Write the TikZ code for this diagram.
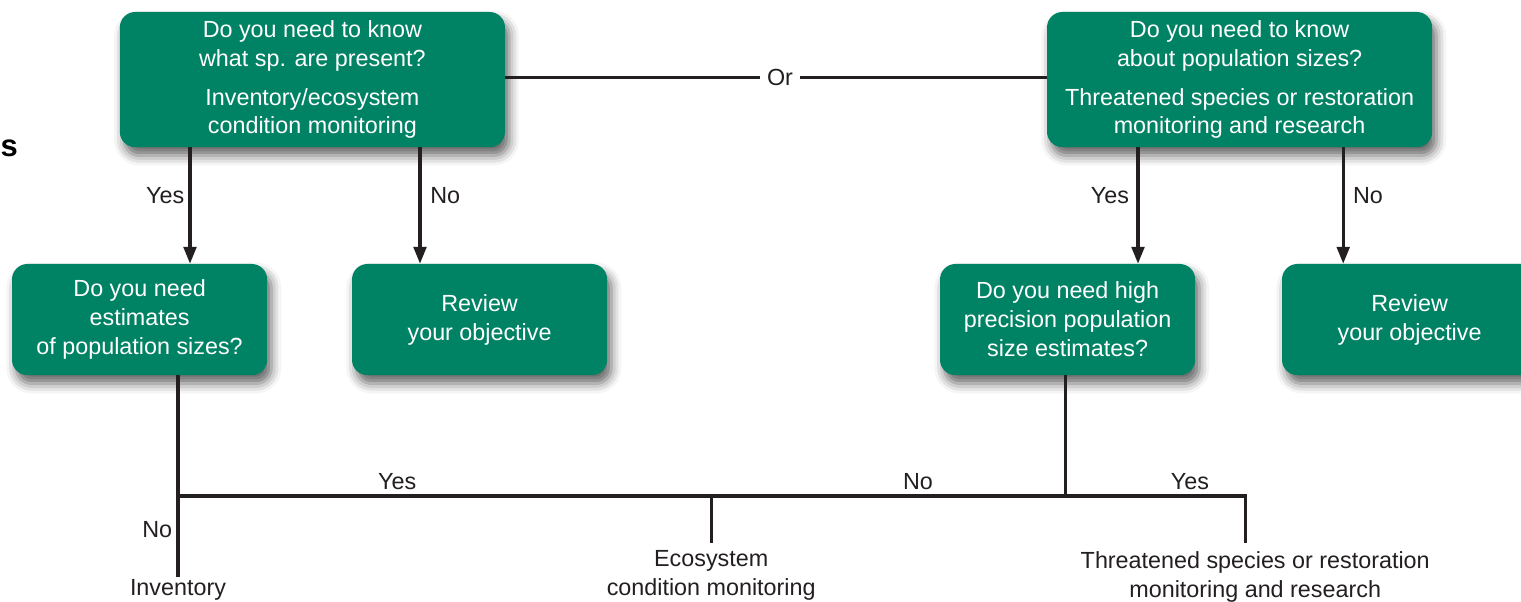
\documentclass[tikz,border=0pt]{standalone}
\usepackage{fontspec}
\setmainfont{Liberation Sans}
\usetikzlibrary{positioning,arrows.meta,shadows.blur}
\definecolor{leaf}{RGB}{0,130,100}
\definecolor{ink}{RGB}{35,31,32}
\newcommand{\flowfont}{\fontsize{16.6}{20.6}\selectfont}

\begin{document}
\begin{tikzpicture}[
 box/.style={rounded corners=11pt,fill=leaf,text=white,align=center,inner sep=4pt,minimum width=6.38cm,minimum height=2.78cm,font=\flowfont,
  blur shadow={shadow xshift=3pt,shadow yshift=-6pt,shadow blur radius=7pt,shadow opacity=60}},
 bigbox/.style={box,minimum width=9.63cm,minimum height=3.38cm},
 lbl/.style={text=ink,font=\flowfont,align=center,inner sep=2pt},
 ln/.style={line width=2.3pt,draw=ink},
 arr/.style={ln,-{Triangle[length=12pt,width=9pt]}}]
\clip (0,0) rectangle (38.025,-15.05);
\node[font=\fontsize{22}{26}\selectfont\bfseries,text=black,inner sep=0pt] (head) at (0.23,-3.7) {s};
% top questions
\node[bigbox] (knowsp) at (7.81,-1.99) {Do you need to know\\what sp. are present?\\[7pt]Inventory/ecosystem\\condition monitoring};
\node[bigbox] (knowpop) at (30.99,-1.99) {Do you need to know\\about population sizes?\\[7pt]Threatened species or restoration\\monitoring and research};
\node[lbl,fill=white,inner sep=5pt] (or) at (19.5,-1.93) {Or};
\draw[ln](knowsp.east|-or)--(or.west);\draw[ln](or.east)--(knowpop.west|-or);
% second row
\node[box] (est) at (3.49,-7.99) {Do you need\\estimates\\of population sizes?};
\node[box] (rev1) at (11.99,-7.99) {Review\\your objective};
\node[box] (prec) at (26.69,-7.99) {Do you need high\\precision population\\size estimates?};
\node[box] (rev2) at (35.24,-7.99) {Review\\your objective};
\coordinate (a1) at (4.75,0);\coordinate (a2) at (10.5,0);
\coordinate (a3) at (28.45,0);\coordinate (a4) at (33.58,0);
\draw[arr](knowsp.south-|a1)--(est.north-|a1);\draw[arr](knowsp.south-|a2)--(rev1.north-|a2);
\draw[arr](knowpop.south-|a3)--(prec.north-|a3);\draw[arr](knowpop.south-|a4)--(rev2.north-|a4);
\node[lbl] (y1) at (4.13,-4.88) {Yes};\node[lbl] (n1) at (11.13,-4.88) {No};
\node[lbl] (y2) at (27.75,-4.88) {Yes};\node[lbl] (n2) at (34.2,-4.88) {No};
% outcomes along the bottom line
\node[lbl,anchor=north] (inv) at (4.45,-14.42) {Inventory};
\node[lbl,anchor=north] (eco) at (17.78,-13.68) {Ecosystem\\condition monitoring};
\node[lbl,anchor=north] (thr) at (31.38,-13.72) {Threatened species or restoration\\monitoring and research};
\coordinate (bl) at (4.45,-12.4);\coordinate (br) at (31.13,-12.4);\coordinate (bp) at (26.63,-12.4);
\draw[ln](est.south-|bl)--(inv.north);
\draw[ln](bl)--(br)--++(0,-1.18);
\draw[ln](eco.north|-bl)--++(0,-1.18);
\draw[ln](prec.south-|bp)--(bp);
\node[lbl] (y3) at (9.93,-12.03) {Yes};\node[lbl] (n3) at (22.95,-12.03) {No};
\node[lbl] (y4) at (29.75,-12.03) {Yes};\node[lbl] (n4) at (3.93,-13.25) {No};
\end{tikzpicture}
\end{document}
